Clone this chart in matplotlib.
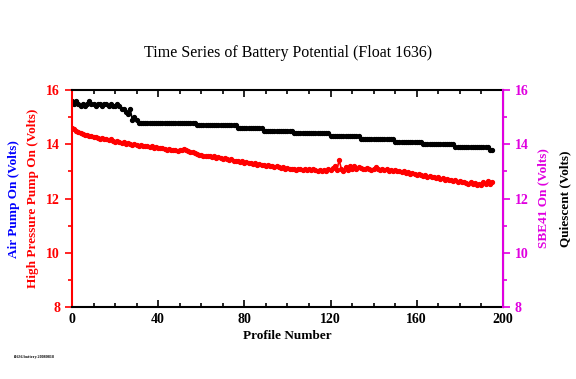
#! /usr/bin/env python3
# Time series of battery potential for float 1636

import matplotlib
matplotlib.use('Agg')
import matplotlib.pyplot as plt
from matplotlib.ticker import MultipleLocator

# quiescent voltage (black)
quiescent = [
    15.6, 15.5, 15.6, 15.5, 15.4, 15.5, 15.4, 15.5, 15.6, 15.5,
    15.5, 15.4, 15.5, 15.5, 15.4, 15.5, 15.5, 15.4, 15.5, 15.4,
    15.4, 15.5, 15.4, 15.3, 15.3, 15.2, 15.1, 15.3, 14.9, 15.0,
    14.9, 14.8, 14.8, 14.8, 14.8, 14.8, 14.8, 14.8, 14.8, 14.8,
    14.8, 14.8, 14.8, 14.8, 14.8, 14.8, 14.8, 14.8, 14.8, 14.8,
    14.8, 14.8, 14.8, 14.8, 14.8, 14.8, 14.8, 14.8, 14.7, 14.7,
    14.7, 14.7, 14.7, 14.7, 14.7, 14.7, 14.7, 14.7, 14.7, 14.7,
    14.7, 14.7, 14.7, 14.7, 14.7, 14.7, 14.7, 14.6, 14.6, 14.6,
    14.6, 14.6, 14.6, 14.6, 14.6, 14.6, 14.6, 14.6, 14.6, 14.5,
    14.5, 14.5, 14.5, 14.5, 14.5, 14.5, 14.5, 14.5, 14.5, 14.5,
    14.5, 14.5, 14.5, 14.4, 14.4, 14.4, 14.4, 14.4, 14.4, 14.4,
    14.4, 14.4, 14.4, 14.4, 14.4, 14.4, 14.4, 14.4, 14.4, 14.4,
    14.3, 14.3, 14.3, 14.3, 14.3, 14.3, 14.3, 14.3, 14.3, 14.3,
    14.3, 14.3, 14.3, 14.3, 14.2, 14.2, 14.2, 14.2, 14.2, 14.2,
    14.2, 14.2, 14.2, 14.2, 14.2, 14.2, 14.2, 14.2, 14.2, 14.2,
    14.1, 14.1, 14.1, 14.1, 14.1, 14.1, 14.1, 14.1, 14.1, 14.1,
    14.1, 14.1, 14.1, 14.0, 14.0, 14.0, 14.0, 14.0, 14.0, 14.0,
    14.0, 14.0, 14.0, 14.0, 14.0, 14.0, 14.0, 14.0, 13.9, 13.9,
    13.9, 13.9, 13.9, 13.9, 13.9, 13.9, 13.9, 13.9, 13.9, 13.9,
    13.9, 13.9, 13.9, 13.9, 13.8, 13.8,
]

# high pressure pump on voltage (red)
hp_pump = [
    14.60, 14.55, 14.50, 14.45, 14.42, 14.38, 14.35, 14.33, 14.30, 14.30,
    14.28, 14.25, 14.22, 14.20, 14.22, 14.18, 14.20, 14.15, 14.18, 14.12,
    14.10, 14.12, 14.08, 14.05, 14.08, 14.02, 14.05, 14.00, 13.98, 14.00,
    13.98, 13.95, 13.97, 13.95, 13.92, 13.95, 13.90, 13.92, 13.88, 13.90,
    13.85, 13.88, 13.85, 13.82, 13.80, 13.82, 13.78, 13.80, 13.78, 13.75,
    13.78, 13.80, 13.82, 13.78, 13.75, 13.72, 13.70, 13.68, 13.65, 13.62,
    13.60, 13.58, 13.55, 13.57, 13.55, 13.52, 13.55, 13.50, 13.52, 13.48,
    13.45, 13.48, 13.45, 13.42, 13.45, 13.40, 13.38, 13.40, 13.35, 13.38,
    13.32, 13.35, 13.30, 13.32, 13.28, 13.30, 13.25, 13.28, 13.22, 13.25,
    13.20, 13.22, 13.18, 13.20, 13.15, 13.18, 13.15, 13.12, 13.15, 13.10,
    13.12, 13.10, 13.08, 13.10, 13.05, 13.08, 13.10, 13.05, 13.08, 13.05,
    13.08, 13.05, 13.10, 13.05, 13.02, 13.05, 13.00, 13.05, 13.02, 13.08,
    13.05, 13.12, 13.20, 13.05, 13.42, 13.10, 13.02, 13.15, 13.05, 13.18,
    13.08, 13.20, 13.10, 13.15, 13.12, 13.10, 13.08, 13.12, 13.10, 13.05,
    13.10, 13.15, 13.08, 13.05, 13.10, 13.05, 13.08, 13.02, 13.05, 13.00,
    13.05, 13.02, 13.00, 12.98, 13.00, 12.95, 12.98, 12.92, 12.95, 12.90,
    12.88, 12.90, 12.85, 12.82, 12.85, 12.80, 12.82, 12.78, 12.80, 12.75,
    12.78, 12.72, 12.75, 12.70, 12.72, 12.68, 12.70, 12.65, 12.68, 12.62,
    12.65, 12.60, 12.62, 12.58, 12.55, 12.60, 12.52, 12.58, 12.50, 12.55,
    12.48, 12.60, 12.52, 12.65, 12.55, 12.62,
]

profiles = list(range(len(quiescent)))

x_ticks = [0, 40, 80, 120, 160, 200]
y_ticks = [8, 10, 12, 14, 16]

plt.rcParams['font.family'] = ['Liberation Serif', 'DejaVu Serif']
plt.rcParams['font.weight'] = 'bold'
plt.rcParams['axes.labelweight'] = 'bold'

magenta = '#e000e0'

fig = plt.figure(figsize=(5.76, 3.79), dpi=100)
ax = fig.add_axes([0.125, 0.19, 0.748, 0.5725])
ax2 = ax.twinx()

ax.plot(profiles, quiescent, color='black', marker='o', markersize=2.8,
        linewidth=1.2)
ax.plot(profiles, hp_pump, color='red', marker='o', markersize=2.8,
        linewidth=1.2)

ax.set_xlim(0, 200)
ax.set_ylim(8, 16)
ax2.set_ylim(8, 16)

ax.set_xticks(x_ticks)
ax.xaxis.set_minor_locator(MultipleLocator(10))
ax.set_yticks(y_ticks)
ax.yaxis.set_minor_locator(MultipleLocator(1))
ax2.set_yticks(y_ticks)
ax2.yaxis.set_minor_locator(MultipleLocator(1))

ax.tick_params(axis='x', which='both', direction='in', top=True,
               labelsize=10, width=1.2, pad=4)
ax.tick_params(axis='x', which='major', length=5)
ax.tick_params(axis='x', which='minor', length=3)
ax.tick_params(axis='y', which='both', direction='out', colors='red',
               labelsize=10, width=1.2)
ax.tick_params(axis='y', which='major', length=5)
ax.tick_params(axis='y', which='minor', length=3)
ax2.tick_params(axis='y', which='both', direction='out', colors=magenta,
                labelsize=10, width=1.2)
ax2.tick_params(axis='y', which='major', length=5)
ax2.tick_params(axis='y', which='minor', length=3)

for side in ['top', 'bottom']:
    ax.spines[side].set_linewidth(1.5)
ax.spines['left'].set_color('red')
ax.spines['left'].set_linewidth(1.5)
ax2.spines['left'].set_visible(False)
ax2.spines['right'].set_color(magenta)
ax2.spines['right'].set_linewidth(1.5)
ax2.spines['top'].set_visible(False)
ax2.spines['bottom'].set_visible(False)

ax.set_xlabel('Profile Number', fontsize=9.5, labelpad=3)
ax.set_ylabel('High Pressure Pump On (Volts)', color='red', fontsize=9.5,
              labelpad=5)
ax2.set_ylabel('SBE41 On (Volts)', color=magenta, fontsize=9.5,
               labelpad=6)

fig.text(0.025, 0.475, 'Air Pump On (Volts)', color='blue', fontsize=9.5,
         fontweight='bold', rotation=90, ha='center', va='center')
fig.text(0.981, 0.475, 'Quiescent (Volts)', color='black', fontsize=9.5,
         fontweight='bold', rotation=90, ha='center', va='center')

fig.text(0.5, 0.86, 'Time Series of Battery Potential (Float 1636)',
         fontsize=11.5, fontweight='normal', ha='center', va='center')

fig.text(0.025, 0.058, 'f1636.battery.20080818', fontsize=3, ha='left',
         va='center')

fig.savefig('out.png', dpi=100)
